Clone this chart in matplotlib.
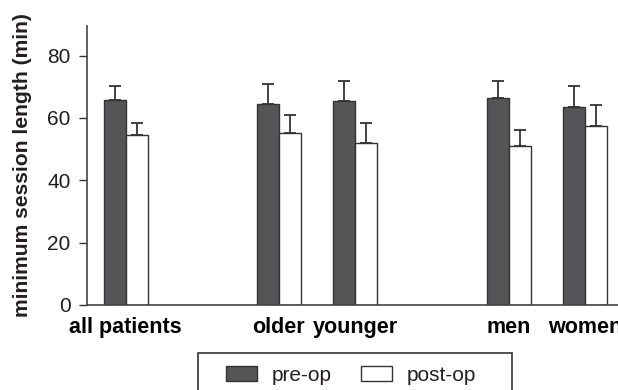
import matplotlib.pyplot as plt
from matplotlib.patches import Patch, Rectangle

groups = ['all patients', 'older', 'younger', 'men', 'women']
group_pos = [0, 2, 3, 5, 6]

pre_op = [65.8, 64.5, 65.5, 66.3, 63.5]
pre_op_err = [4.3, 6.4, 6.2, 5.7, 6.6]
post_op = [54.6, 55.3, 52.1, 50.9, 57.3]
post_op_err = [3.9, 5.8, 6.2, 5.3, 6.9]

DARK = '#555557'
INK = '#231f20'
EDGE = '#333333'
WIDTH = 0.287

plt.rcParams['font.family'] = ['Liberation Sans', 'DejaVu Sans']
plt.rcParams['text.color'] = INK

fig = plt.figure(figsize=(6.18, 3.9), dpi=100)
ax = fig.add_axes([0.1413, 0.218, 0.8587, 0.7154])

pre_x = [p - WIDTH / 2 for p in group_pos]
post_x = [p + WIDTH / 2 for p in group_pos]

err_style = dict(ecolor=EDGE, elinewidth=1.3, capsize=4, capthick=1.3)
ax.bar(pre_x, pre_op, WIDTH, color=DARK, edgecolor=EDGE, linewidth=1.0,
       yerr=[[0] * len(pre_op), pre_op_err], error_kw=err_style, zorder=2)
ax.bar(post_x, post_op, WIDTH, color='white', edgecolor=EDGE, linewidth=1.0,
       yerr=[[0] * len(post_op), post_op_err], error_kw=err_style, zorder=2)

ax.set_xlim(-0.5, 6.427)
ax.set_ylim(0, 89.5)
ax.set_yticks([0, 20, 40, 60, 80])
ax.set_xticks(group_pos)
ax.set_xticklabels(groups, fontsize=15.5, fontweight='bold')
ax.tick_params(axis='x', length=0, pad=9)
ax.tick_params(axis='y', labelsize=15, length=6, width=1.0, color=EDGE, pad=6,
               labelcolor=INK)

for side in ('top', 'right'):
    ax.spines[side].set_visible(False)
for side in ('left', 'bottom'):
    ax.spines[side].set_color('#444444')
    ax.spines[side].set_linewidth(1.2)

fig.text(0.037, 0.577, 'minimum session length (min)', rotation=90,
         fontsize=15.2, fontweight='bold', ha='center', va='center')

# legend: entries from the library, frame drawn as a plain box that runs off the bottom
handles = [Patch(facecolor=DARK, edgecolor=EDGE, linewidth=1.0, label='pre-op'),
           Patch(facecolor='white', edgecolor=EDGE, linewidth=1.0, label='post-op')]
fig.legend(handles=handles, loc='center left', bbox_to_anchor=(0.366, 0.038),
           ncol=2, frameon=False, fontsize=15, handlelength=1.5, handleheight=0.68,
           handletextpad=0.7, columnspacing=1.4, borderpad=0, borderaxespad=0)
fig.patches.append(Rectangle((198 / 618, -0.05), (512 - 198) / 618, 0.05 + (390 - 352.5) / 390,
                             transform=fig.transFigure, fill=False,
                             edgecolor=EDGE, linewidth=1.2))

fig.savefig('out.png', dpi=100)
